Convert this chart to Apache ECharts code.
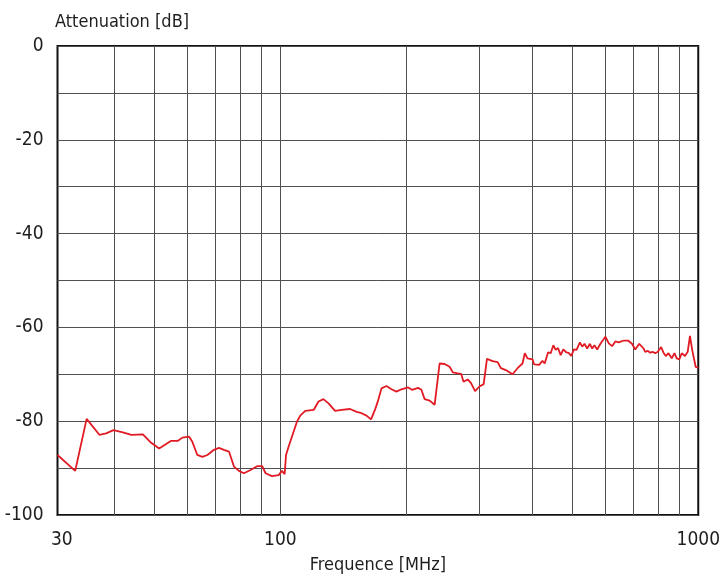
<!DOCTYPE html>
<html>
<head>
<meta charset="utf-8">
<script src="https://cdn.jsdelivr.net/npm/echarts@6/dist/echarts.min.js"></script>
<style>
html,body{margin:0;padding:0;background:#fff;}
#chart{width:723px;height:579px;}
</style>
</head>
<body>
<div id="chart"></div>
<script>
// Frequency [MHz]
var freq = [29.3,32.3,34.4,36.9,38.3,39.9,42.0,44.0,46.9,49.1,51.3,54.7,56.8,58.3,60.5,61.6,63.3,65.1,66.9,69.4,71.3,73.3,75.4,77.5,79.6,81.8,84.9,88.0,90.5,92.2,95.5,99.1,100.9,102.4,103.2,104.7,106.6,109.6,111.6,114.7,120.2,123.4,126.8,130.4,135.2,140.2,146.8,152.3,156.5,160.8,164.8,168.4,171.5,174.6,179.5,184.5,189.6,194.9,202.2,206.6,213.6,217.5,221.5,227.7,234.0,240.5,247.2,254.1,258.7,265.9,270.8,274.4,280.9,286.0,292.4,299.5,306.6,312.2,322.2,331.1,337.2,346.5,359.5,369.5,379.7,384.6,390.3,401.2,404.9,416.2,419.8,423.8,429.1,437.2,443.5,450.1,455.8,461.8,468.5,475.4,483.3,490.5,496.8,504.2,511.4,521.0,527.6,534.3,542.3,550.4,557.4,564.4,572.9,583.3,592.0,599.5,610.8,622.0,633.3,645.2,663.2,679.0,694.1,706.7,722.4,740.0,746.6,757.7,767.3,777.5,788.6,800.4,815.0,825.8,836.3,848.7,864.2,877.1,888.3,901.5,912.9,929.6,943.5,955.4,968.1,978.8,985.8,996.6,1000];
// Attenuation [dB]
var atten = [-87.2,-90.6,-79.5,-82.9,-82.6,-81.9,-82.4,-82.9,-82.8,-84.6,-85.8,-84.2,-84.2,-83.5,-83.3,-84.4,-87.2,-87.6,-87.2,-86.1,-85.7,-86.1,-86.5,-89.7,-90.6,-91.1,-90.4,-89.6,-89.6,-91.1,-91.7,-91.5,-90.6,-91.3,-87.2,-85.4,-83.3,-80.1,-78.8,-77.8,-77.6,-75.8,-75.3,-76.2,-77.8,-77.6,-77.4,-78.0,-78.3,-78.8,-79.6,-77.6,-75.5,-73.0,-72.5,-73.2,-73.7,-73.2,-72.8,-73.3,-72.9,-73.3,-75.3,-75.6,-76.5,-67.7,-67.8,-68.4,-69.6,-69.8,-69.9,-71.6,-71.1,-71.9,-73.6,-72.6,-72.1,-66.7,-67.2,-67.4,-68.7,-69.1,-70.0,-68.7,-67.7,-65.5,-66.6,-66.8,-67.9,-68.0,-68.4,-67.1,-67.7,-65.3,-65.5,-63.8,-64.8,-64.4,-65.9,-64.7,-65.3,-65.5,-66.1,-64.7,-64.8,-63.2,-64.1,-63.5,-64.5,-63.5,-64.5,-63.8,-64.7,-63.5,-62.7,-62.0,-63.4,-64.0,-63.0,-63.2,-62.8,-62.8,-63.5,-64.7,-63.5,-64.5,-65.2,-65.0,-65.4,-65.2,-65.5,-65.2,-64.2,-65.4,-66.1,-65.5,-66.6,-65.5,-66.6,-66.8,-65.5,-66.1,-65.2,-61.8,-65.0,-65.0,-68.4,-68.4,-68.6];
// Axis ticks
var xGridFreqs = [40,50,60,70,80,90,100,200,300,400,500,600,700,800,900];
var xLabelFreqs = [30,100,1000];
var xMinFreq = 29.3, xMaxFreq = 1000;
var yMin = -100, yMax = 0, yGridStep = 10, yLabelStep = 20;

var FONT = '"Liberation Sans Narrow","DejaVu Sans Condensed","Roboto",sans-serif';
var lg = function(v){ return Math.log10(v); };
var chart = echarts.init(document.getElementById('chart'));
chart.setOption({
  animation: false,
  title: {
    text: 'Attenuation [dB]',
    left: 50, top: 8,
    textStyle: {fontFamily: FONT, fontSize: 18, fontWeight: 'normal', color: '#1e1e1e'}
  },
  grid: {
    left: 57.5, right: 21.5, top: 46, bottom: 64,
    show: true, borderColor: '#111', borderWidth: 2, backgroundColor: 'transparent'
  },
  xAxis: {
    type: 'value',
    min: lg(xMinFreq), max: lg(xMaxFreq),
    name: 'Frequence [MHz]',
    nameLocation: 'middle',
    nameGap: 41,
    nameTextStyle: {fontFamily: FONT, fontSize: 18, color: '#1e1e1e'},
    axisLine: {show: false},
    axisTick: {show: false, customValues: xGridFreqs.map(lg)},
    axisLabel: {
      customValues: xLabelFreqs.map(lg),
      margin: 16,
      fontFamily: FONT, fontSize: 19, color: '#1e1e1e',
      formatter: function(v){ return String(Math.round(Math.pow(10, v))); }
    },
    splitLine: {show: true, lineStyle: {color: '#505050', width: 1}}
  },
  yAxis: {
    type: 'value',
    min: yMin, max: yMax, interval: yGridStep,
    axisLine: {show: false},
    axisTick: {show: false},
    axisLabel: {
      margin: 14,
      fontFamily: FONT, fontSize: 19, color: '#1e1e1e',
      formatter: function(v){ return (Math.round(v) % yLabelStep === 0) ? String(Math.round(v)) : ''; }
    },
    splitLine: {show: true, lineStyle: {color: '#505050', width: 1}}
  },
  series: [{
    type: 'line',
    data: freq.map(function(f, i){ return [lg(f), atten[i]]; }),
    showSymbol: false,
    symbol: 'none',
    smooth: false,
    lineStyle: {color: '#e01b24', width: 1.8},
    z: 5
  }]
});
</script>
</body>
</html>
